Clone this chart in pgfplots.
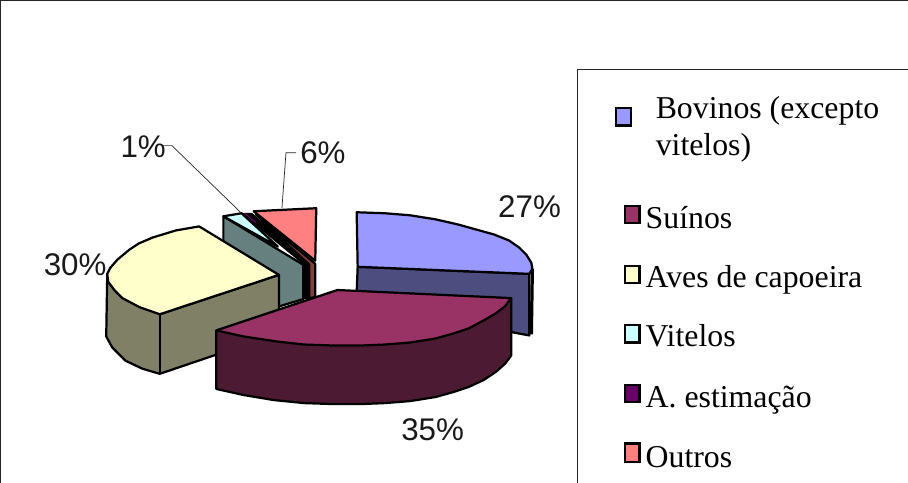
\documentclass[border=0pt]{standalone}
\usepackage{fontspec}
\setmainfont{Liberation Serif}
\newfontfamily\arialf{Liberation Sans}
\usepackage{pgfplots}
\pgfplotsset{compat=1.18}
\definecolor{bovT}{HTML}{9999FF}\definecolor{bovS}{HTML}{4D4D80}
\definecolor{suiT}{HTML}{993366}\definecolor{suiS}{HTML}{4D1A33}
\definecolor{aveT}{HTML}{FFFFCC}\definecolor{aveS}{HTML}{808066}
\definecolor{vitT}{HTML}{CCFFFF}\definecolor{vitS}{HTML}{668080}
\definecolor{estT}{HTML}{660066}
\definecolor{outT}{HTML}{FF8080}\definecolor{outS}{HTML}{804040}
\tikzset{
  pie/.style={draw=black, line width=2.2pt, line join=round},
  leader/.style={draw=black!85, line width=0.7pt},
  box/.style={draw=black, line width=2.2pt, line join=miter},
  lab/.style={anchor=base west, inner sep=0pt, font=\fontsize{31}{31}\selectfont\arialf, text=black!90},
  leg/.style={anchor=base west, inner sep=0pt, font=\fontsize{31.5}{31.5}\selectfont, text=black},
}
\begin{document}
\begin{tikzpicture}
\begin{axis}[
  scale only axis, width=908pt, height=488pt,
  xmin=0, xmax=908, ymin=0, ymax=488, y dir=reverse,
  hide axis, clip=true,
  every axis plot/.append style={no markers},
]
% outer frame
\addplot[draw=black!85, line width=1.4pt] coordinates {(9.5,488) (9.5,10.5) (908,10.5)};
% legend frame
\addplot[draw=black!85, line width=1.2pt] coordinates {(580.5,488) (580.5,78.5) (908,78.5)};
% Outros
\addplot[pie, fill=outS] coordinates {(262,222) (321,271) (321,304) (315,305) (315,272)} -- cycle;
\addplot[pie, fill=outT] coordinates {(260,219) (322,216) (321,268)} -- cycle;
% A. estimacao
\addplot[draw=black, fill=black, line width=1pt] coordinates {(248,221) (258,221) (315,271) (315,305) (309,306) (309,271)} -- cycle;
\addplot[draw=estT, line width=1.2pt] coordinates {(251,221) (262,230)};
% Vitelos
\addplot[pie, fill=vitS] coordinates {(230,224) (309,272) (309,306) (230,330)} -- cycle;
\addplot[pie, fill=vitT] coordinates {(230,224) (248,221) (284,254)} -- cycle;
% Aves
\addplot[pie, fill=aveS] coordinates {(115,281) (114,343) (120,354) (133,367) (150,375) (167,380) (285,340) (285,282) (167,321)} -- cycle;
\addplot[pie] coordinates {(167,321) (167,380)};
\addplot[pie, fill=aveT] coordinates {(206,234) (183,238) (160,245) (146,251) (137,257) (125,267) (118,275) (115,281) (116,289) (122,297) (130,305) (147,314) (167,321) (285,282)} -- cycle;
% Bovinos
\addplot[pie, fill=bovS] coordinates {(363,274) (533,281) (533,342) (517,339) (362,300)} -- cycle;
\addplot[draw=black, line width=3.2pt] coordinates {(536,276) (535,341)};
\addplot[pie, fill=bovT] coordinates {(362,220) (390,221) (415,223) (440,227) (462,232) (480,237) (498,242) (513,248) (523,255) (530,262) (535,270) (536,276) (533,281) (363,274)} -- cycle;
% Suinos
\addplot[pie, fill=suiS] coordinates {(223,337) (223,395) (250,401) (280,406) (310,409) (340,410) (365,410) (390,409) (415,407) (440,403) (458,398) (473,393) (488,386) (500,378) (509,370) (515,362) (515,305)} -- cycle;
\addplot[pie, fill=suiT] coordinates {(223,337) (343,297) (515,305) (509,313) (500,320) (488,327) (473,335) (458,340) (440,345) (415,349) (390,351) (365,352) (340,352) (310,351) (283,348) (250,343)} -- cycle;
% leader lines
\addplot[leader] coordinates {(170,154) (179,154) (248,221)};
\addplot[leader] coordinates {(302,161) (292,161) (288,216)};
% value labels
\node[lab] at (axis cs:128,166) {1\%};
\node[lab] at (axis cs:306,172) {6\%};
\node[lab] at (axis cs:502,225) {27\%};
\node[lab] at (axis cs:52,283) {30\%};
\node[lab] at (axis cs:406,446) {35\%};
% legend keys
\addplot[box, fill=bovT] coordinates {(619,117) (634,117) (634,134) (619,134)} -- cycle;
\addplot[box, fill=suiT] coordinates {(628,214) (642,214) (642,231) (628,231)} -- cycle;
\addplot[box, fill=aveT] coordinates {(628,273) (642,273) (642,290) (628,290)} -- cycle;
\addplot[box, fill=vitT] coordinates {(628,332) (642,332) (642,349) (628,349)} -- cycle;
\addplot[box, fill=estT] coordinates {(628,391) (642,391) (642,408) (628,408)} -- cycle;
\addplot[box, fill=outT] coordinates {(628,449) (642,449) (642,467) (628,467)} -- cycle;
% legend text
\node[leg] at (axis cs:658,127) {Bovinos (excepto};
\node[leg] at (axis cs:658,164) {vitelos)};
\node[leg] at (axis cs:648,236) {Suínos};
\node[leg] at (axis cs:648,295) {Aves de capoeira};
\node[leg] at (axis cs:648,353) {Vitelos};
\node[leg] at (axis cs:648,413) {A. estimação};
\node[leg] at (axis cs:648,473) {Outros};
\end{axis}
\end{tikzpicture}
\end{document}
